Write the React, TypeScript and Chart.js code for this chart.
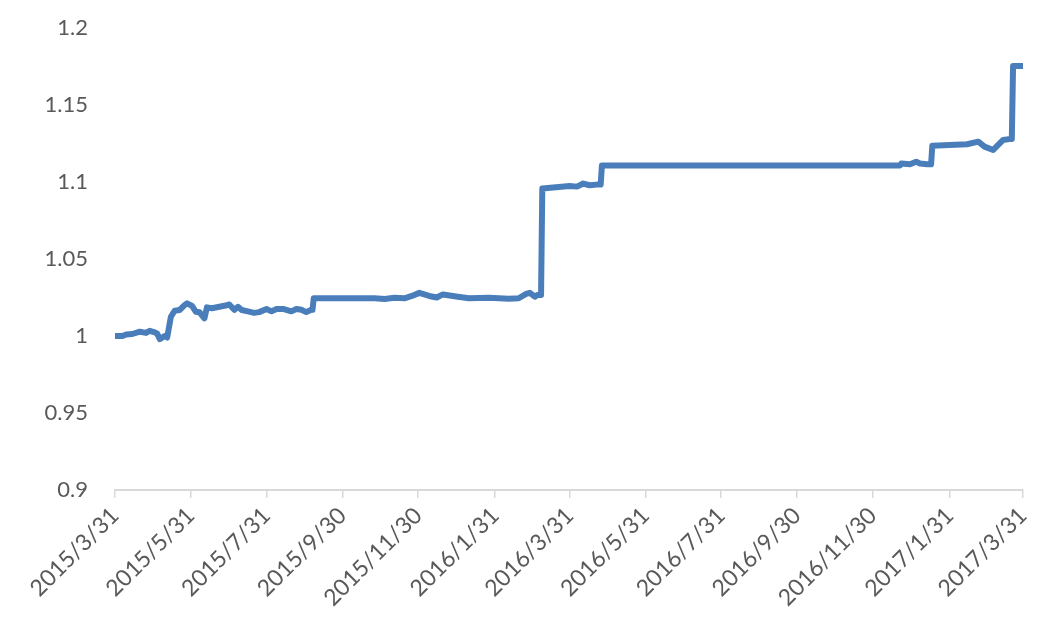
import React, { useEffect, useRef } from 'react';
import { Chart, registerables } from 'chart.js';

Chart.register(...registerables);

const dates: string[] = [
  '2015-03-31', '2015-04-06', '2015-04-09', '2015-04-14', '2015-04-20', '2015-04-25', '2015-04-28',
  '2015-05-02', '2015-05-04', '2015-05-06', '2015-05-10', '2015-05-12', '2015-05-15', '2015-05-18',
  '2015-05-22', '2015-05-26', '2015-05-28', '2015-06-01', '2015-06-04', '2015-06-07', '2015-06-11',
  '2015-06-13', '2015-06-17', '2015-06-23', '2015-06-29', '2015-07-01', '2015-07-05', '2015-07-08',
  '2015-07-11', '2015-07-16', '2015-07-21', '2015-07-25', '2015-07-31', '2015-08-04', '2015-08-08',
  '2015-08-14', '2015-08-20', '2015-08-24', '2015-08-28', '2015-09-01', '2015-09-05', '2015-09-06',
  '2015-09-07', '2015-10-26', '2015-11-03', '2015-11-11', '2015-11-19', '2015-11-25', '2015-12-01',
  '2015-12-09', '2015-12-15', '2015-12-20', '2016-01-01', '2016-01-10', '2016-01-26', '2016-02-11',
  '2016-02-19', '2016-02-25', '2016-02-28', '2016-03-03', '2016-03-05', '2016-03-08', '2016-03-09',
  '2016-03-31', '2016-04-06', '2016-04-11', '2016-04-16', '2016-04-22', '2016-04-25', '2016-04-26',
  '2016-12-22', '2016-12-23', '2016-12-30', '2017-01-04', '2017-01-07', '2017-01-13', '2017-01-16',
  '2017-01-17', '2017-02-14', '2017-02-23', '2017-02-28', '2017-03-07', '2017-03-15', '2017-03-21',
  '2017-03-22', '2017-03-23', '2017-03-31',
];

const values: number[] = [
  1.0, 1.0, 1.001, 1.0013, 1.0028, 1.002, 1.0034,
  1.0024, 1.0015, 0.998, 1.0, 0.999, 1.0125, 1.0164,
  1.0169, 1.02, 1.0212, 1.0195, 1.0158, 1.0154, 1.0115,
  1.0186, 1.018, 1.019, 1.02, 1.0205, 1.017, 1.019,
  1.0169, 1.016, 1.015, 1.0155, 1.0175, 1.016, 1.0175,
  1.0175, 1.016, 1.0175, 1.017, 1.0155, 1.017, 1.017,
  1.0245, 1.0245, 1.024, 1.0248, 1.0245, 1.026, 1.028,
  1.026, 1.025, 1.027, 1.0255, 1.0245, 1.0248, 1.0242,
  1.0245, 1.0273, 1.028, 1.0255, 1.0266, 1.0266, 1.0958,
  1.0974, 1.097, 1.099, 1.0979, 1.0983, 1.0983, 1.1107,
  1.1107, 1.112, 1.1115, 1.1132, 1.112, 1.1115, 1.1115,
  1.1236, 1.1245, 1.1262, 1.123, 1.1208, 1.1273, 1.128,
  1.128, 1.1753, 1.1753,
];

const xTickLabels: string[] = [
  '2015/3/31', '2015/5/31', '2015/7/31', '2015/9/30', '2015/11/30', '2016/1/31', '2016/3/31',
  '2016/5/31', '2016/7/31', '2016/9/30', '2016/11/30', '2017/1/31', '2017/3/31',
];

const yTickValues: number[] = [0.9, 0.95, 1, 1.05, 1.1, 1.15, 1.2];

const START = Date.UTC(2015, 2, 31);
function dayOf(s: string): number {
  const [y, m, d] = s.split(/[-\/]/).map(Number);
  return Math.round((Date.UTC(y, m - 1, d) - START) / 86400000);
}

const Y_FONT = { family: 'Lato, "Open Sans", sans-serif', size: 22 };
const X_FONT = { family: 'Lato, "Open Sans", sans-serif', size: 23 };
const TEXT = '#595959';
const AXIS = '#D9D9D9';

export default function App() {
  const ref = useRef<HTMLCanvasElement>(null);

  useEffect(() => {
    const points = dates.map((d, i) => ({ x: dayOf(d), y: values[i] }));
    const chart = new Chart(ref.current as HTMLCanvasElement, {
      type: 'line',
      data: {
        datasets: [
          {
            data: points,
            borderColor: '#4A7EBB',
            backgroundColor: '#4A7EBB',
            borderWidth: 6,
            pointRadius: 0,
            tension: 0,
            borderJoinStyle: 'round',
            borderCapStyle: 'round',
            fill: false,
          },
        ],
      },
      options: {
        responsive: false,
        animation: false,
        layout: { padding: { top: 28, right: 21, left: 0, bottom: 0 } },
        plugins: { legend: { display: false }, tooltip: { enabled: false } },
        scales: {
          x: {
            type: 'linear',
            min: dayOf(xTickLabels[0]),
            max: dayOf(xTickLabels[xTickLabels.length - 1]),
            afterBuildTicks: (scale: any) => {
              scale.ticks = xTickLabels.map((l) => ({ value: dayOf(l) }));
            },
            afterFit: (scale: any) => {
              scale.height = 140;
              scale.paddingLeft = 0;
              scale.paddingRight = 0;
            },
            ticks: {
              autoSkip: false,
              minRotation: 45,
              maxRotation: 45,
              padding: 4,
              color: TEXT,
              font: X_FONT,
              callback: (_v: any, i: number) => xTickLabels[i],
            },
            grid: {
              drawOnChartArea: false,
              drawTicks: true,
              tickLength: 8,
              color: AXIS,
              lineWidth: 1.5,
            },
            border: { display: true, color: AXIS, width: 2 },
          },
          y: {
            type: 'linear',
            min: 0.9,
            max: 1.2,
            afterBuildTicks: (scale: any) => {
              scale.ticks = yTickValues.map((v) => ({ value: v }));
            },
            afterFit: (scale: any) => {
              scale.width = 115;
              scale.paddingTop = 0;
              scale.paddingBottom = 0;
            },
            ticks: {
              padding: 27,
              color: TEXT,
              font: Y_FONT,
              callback: (v: any) => String(Number(Number(v).toFixed(2))),
            },
            grid: { display: false, drawTicks: false },
            border: { display: false },
          },
        },
      },
    } as any);
    return () => chart.destroy();
  }, []);

  return (
    <div style={{ position: 'absolute', left: 0, top: 0, width: 1044, height: 630, background: '#fff' }}>
      <canvas ref={ref} width={1044} height={630} style={{ display: 'block' }} />
    </div>
  );
}
